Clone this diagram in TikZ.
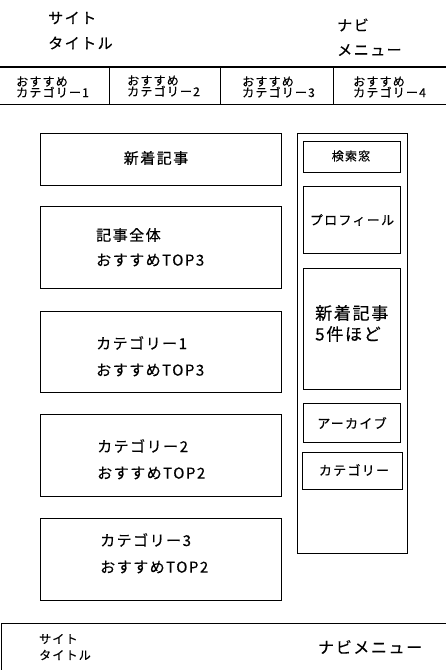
\documentclass[tikz,border=0pt]{standalone}
\usepackage{fontspec}
\setmainfont{Noto Sans CJK JP}[LetterSpace=10,FakeBold=0.4]
\usepackage{tikz}

\tikzset{
  frame/.style={draw=black, line width=1pt},
  lbl/.style={inner sep=0pt, anchor=west, font=\fontsize{15}{18}\selectfont},
  navlbl/.style={inner sep=0pt, anchor=west, align=left, font=\fontsize{12}{12}\selectfont},
  sidelbl/.style={inner sep=0pt, font=\fontsize{13}{16}\selectfont}
}

\begin{document}
\begin{tikzpicture}[x=1pt,y=-1pt]
		\useasboundingbox (0,0) rectangle (446,670);
		
		% header
		\node[lbl] (sitetitle) at (48,18) {サイト};
		\node[lbl] (sitetitleb) at (48,43) {タイトル};
		\node[lbl] (navi) at (337,25) {ナビ};
		\node[lbl] (navib) at (337,50) {メニュー};
		\draw[line width=2pt] (0,67) -- (446,67);
		
		% category bar
		\draw[frame] (0,104) -- (446,104);
		\foreach \x in {109,220,333}
			\draw[frame] (\x,67) -- (\x,104);
		\node[navlbl] (cat1) at (16,87) {おすすめ\\[-1pt]カテゴリー1};
		\node[navlbl] (cat2) at (127,86) {おすすめ\\[-1pt]カテゴリー2};
		\node[navlbl] (cat3) at (242,87) {おすすめ\\[-1pt]カテゴリー3};
		\node[navlbl] (cat4) at (353,87) {おすすめ\\[-1pt]カテゴリー4};
		
		% main column
		\draw[frame] (40,133) rectangle (281,185);
		\node[lbl, anchor=center] (newposts) at (156,158) {新着記事};
		
		\draw[frame] (40,206) rectangle (281,288);
		\node[lbl] (alltop) at (96,235) {記事全体};
		\node[lbl] (alltopb) at (96,260) {おすすめTOP3};
		
		\draw[frame] (40,311) rectangle (281,392);
		\node[lbl] (catone) at (96,343) {カテゴリー1};
		\node[lbl] (catoneb) at (96,370) {おすすめTOP3};
		
		\draw[frame] (40,414) rectangle (281,496);
		\node[lbl] (cattwo) at (97,446) {カテゴリー2};
		\node[lbl] (cattwob) at (97,473) {おすすめTOP2};
		
		\draw[frame] (40,518) rectangle (281,600);
		\node[lbl] (catthree) at (100,540) {カテゴリー3};
		\node[lbl] (catthreeb) at (100,567) {おすすめTOP2};
		
		% sidebar
		\draw[frame] (297,133) rectangle (407,553);
		\draw[frame] (303,141) rectangle (400,172);
		\node[sidelbl, font=\fontsize{12}{14}\selectfont] (search) at (351,156) {検索窓};
		\draw[frame] (303,186) rectangle (400,253);
		\node[sidelbl] (profile) at (352,220) {プロフィール};
		\draw[frame] (303,268) rectangle (400,389);
		\node[lbl, font=\fontsize{17}{20}\selectfont] (sidenew) at (315,313) {新着記事};
		\node[lbl, font=\fontsize{17}{20}\selectfont] (sidenewb) at (315,334) {5件ほど};
		\draw[frame] (303,403) rectangle (400,442);
		\node[sidelbl] (archive) at (352,423) {アーカイブ};
		\draw[frame] (302,452) rectangle (402,489);
		\node[sidelbl] (sidecat) at (354,470) {カテゴリー};
		
		% footer
		\draw[frame] (1,670) -- (1,623) -- (446,623);
		\node[navlbl] (footsite) at (39,639) {サイト};
		\node[navlbl] (footsiteb) at (39,655) {タイトル};
		\node[lbl, font=\fontsize{16}{20}\selectfont] (footnavi) at (318,647) {ナビメニュー};
		
\end{tikzpicture}
\end{document}
